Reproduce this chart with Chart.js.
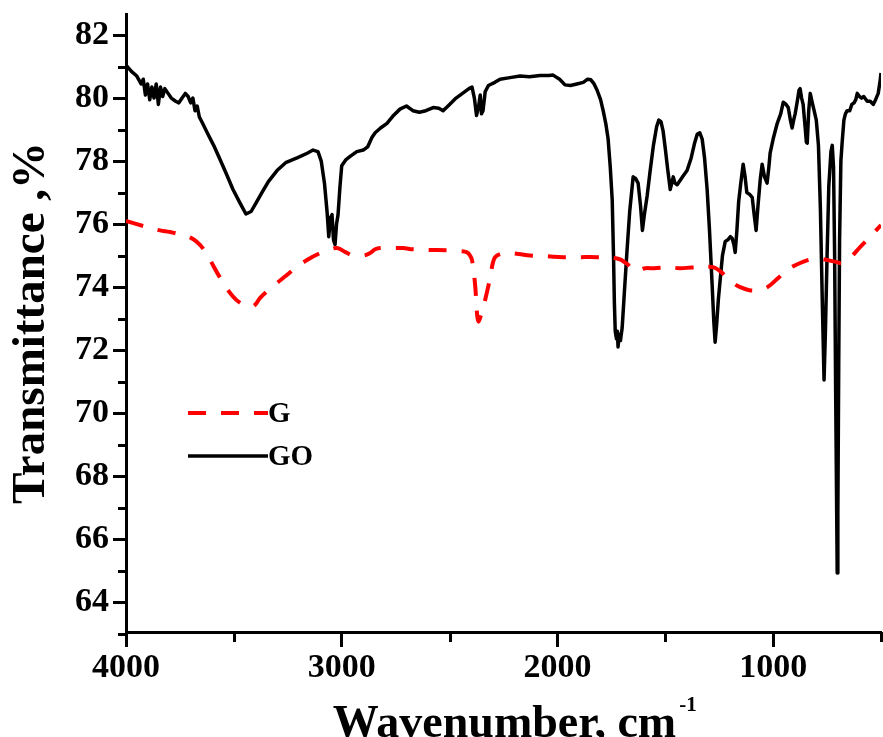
<!DOCTYPE html>
<html>
<head>
<meta charset="utf-8">
<script src="https://cdn.jsdelivr.net/npm/chart.js@4.4.0/dist/chart.umd.min.js"></script>
<style>
  html, body { margin: 0; padding: 0; background: #fff; }
  canvas { display: block; }
</style>
</head>
<body>
<canvas id="ftir" width="883" height="737"></canvas>
<script>
// FTIR spectra of graphene (G) and graphene oxide (GO)
const goWavenumber = [
  4000, 3975, 3950, 3930, 3920, 3910, 3900, 3890, 3880, 3870, 3860, 3850, 3840, 3830, 3820, 3805,
  3790, 3770, 3755, 3740, 3725, 3712, 3700, 3690, 3680, 3670, 3660, 3645, 3620, 3590, 3564, 3535,
  3504, 3470, 3444, 3420, 3395, 3370, 3340, 3300, 3260, 3207, 3160, 3133, 3110, 3095, 3080, 3068,
  3060, 3052, 3045, 3038, 3031, 3024, 3017, 3008, 3000, 2980, 2961, 2930, 2900, 2880, 2860, 2845,
  2820, 2790, 2760, 2730, 2700, 2670, 2640, 2610, 2576, 2550, 2530, 2500, 2470, 2440, 2410, 2396,
  2385, 2375, 2365, 2358, 2352, 2345, 2335, 2320, 2290, 2266, 2220, 2173, 2130, 2080, 2040, 2020,
  1990, 1965, 1940, 1910, 1880, 1860, 1845, 1830, 1816, 1800, 1788, 1776, 1765, 1755, 1746, 1740,
  1736, 1732, 1726, 1722, 1719, 1714, 1708, 1700, 1690, 1677, 1665, 1649, 1638, 1626, 1615, 1606,
  1597, 1584, 1570, 1555, 1540, 1530, 1520, 1510, 1500, 1490, 1477, 1470, 1463, 1455, 1445, 1430,
  1415, 1399, 1380, 1365, 1352, 1340, 1329, 1318, 1306, 1295, 1283, 1275, 1269, 1262, 1254, 1246,
  1235, 1222, 1210, 1198, 1190, 1182, 1176, 1168, 1160, 1150, 1139, 1130, 1122, 1110, 1097, 1088,
  1079, 1070, 1060, 1051, 1040, 1028, 1020, 1014, 1000, 981, 965, 953, 940, 930, 920, 912,
  905, 898, 888, 880, 875, 868, 861, 852, 846, 842, 835, 828, 820, 810, 800, 790,
  781, 772, 764, 758, 750, 742, 732, 726, 720, 715, 710, 705, 703, 700, 696, 692,
  686, 680, 672, 665, 657, 645, 635, 625, 617, 610, 600, 590, 580, 564, 550, 536,
  525, 513, 505, 500
];
const goTransmittance = [
  81.05, 80.85, 80.7, 80.45, 80.6, 80.1, 80.45, 79.95, 80.35, 80.0, 80.45, 79.8, 80.35, 80.05, 80.3, 80.15,
  80.0, 79.9, 79.85, 80.0, 80.15, 80.05, 79.85, 80.0, 79.6, 79.75, 79.4, 79.2, 78.85, 78.45, 78.05, 77.6,
  77.1, 76.65, 76.32, 76.4, 76.7, 77.0, 77.35, 77.7, 77.95, 78.1, 78.25, 78.35, 78.3, 78.0, 77.3, 76.4,
  75.6, 76.2, 76.3, 75.5, 75.35, 76.0, 76.3, 77.2, 77.85, 78.05, 78.15, 78.3, 78.35, 78.45, 78.75, 78.9,
  79.05, 79.2, 79.45, 79.65, 79.75, 79.6, 79.55, 79.6, 79.7, 79.68, 79.6, 79.8, 80.0, 80.15, 80.3, 80.35,
  80.0, 79.45, 79.75, 80.1, 79.5, 79.6, 80.2, 80.4, 80.5, 80.6, 80.65, 80.7, 80.68, 80.72, 80.72, 80.73,
  80.6, 80.42, 80.4, 80.45, 80.5, 80.6, 80.58, 80.45, 80.25, 79.95, 79.6, 79.2, 78.7, 77.8, 76.76, 75.0,
  73.5, 72.6, 72.35, 72.6, 72.1, 72.5, 72.3, 72.7, 73.8, 75.2, 76.4, 77.5, 77.45, 77.3, 76.6, 75.8,
  76.3, 76.9, 77.7, 78.5, 79.1, 79.3, 79.25, 78.95, 78.4, 77.8, 77.1, 77.3, 77.5, 77.3, 77.25, 77.4,
  77.55, 77.7, 78.1, 78.55, 78.85, 78.9, 78.7, 78.1, 77.1, 75.8, 74.1, 72.9, 72.25, 72.8, 73.6, 74.2,
  75.0, 75.45, 75.5, 75.6, 75.55, 75.35, 75.1, 75.8, 76.7, 77.3, 77.9, 77.5, 77.0, 76.95, 76.85, 76.3,
  75.8, 76.6, 77.4, 77.9, 77.5, 77.3, 77.8, 78.25, 78.7, 79.2, 79.5, 79.87, 79.8, 79.7, 79.3, 79.05,
  79.3, 79.5, 79.9, 80.25, 80.3, 80.0, 79.8, 79.1, 78.6, 78.57, 79.6, 80.15, 79.9, 79.6, 79.3, 78.5,
  76.5, 73.5, 71.05, 72.5, 75.0, 77.2, 78.3, 78.5, 77.8, 75.0, 70.5, 66.5, 64.92, 66.8, 71.5, 75.5,
  78.0, 78.6, 79.3, 79.5, 79.6, 79.6, 79.8, 79.85, 79.95, 80.15, 80.05, 80.0, 80.05, 79.9, 79.9, 79.8,
  79.95, 80.15, 80.5, 80.8
];

const gWavenumber = [
  4000, 3900, 3842, 3796, 3740, 3703, 3671, 3640, 3610, 3564, 3504, 3460, 3425, 3400, 3379, 3340,
  3300, 3260, 3226, 3161, 3100, 3060, 3022, 2985, 2947, 2900, 2869, 2845, 2820, 2760, 2716, 2669,
  2600, 2512, 2450, 2419, 2405, 2396, 2382, 2372, 2366, 2355, 2335, 2312, 2300, 2289, 2265, 2233,
  2180, 2127, 2050, 1974, 1900, 1816, 1719, 1680, 1649, 1620, 1593, 1550, 1491, 1431, 1380, 1338,
  1278, 1245, 1213, 1180, 1153, 1110, 1074, 1040, 1014, 975, 935, 880, 814, 780, 750, 710,
  675, 640, 597, 550, 500
];
const gTransmittance = [
  76.1, 75.9, 75.8, 75.75, 75.65, 75.58, 75.43, 75.2, 74.86, 74.3, 73.7, 73.45, 73.37, 73.45, 73.65, 73.9,
  74.13, 74.35, 74.54, 74.86, 75.08, 75.18, 75.24, 75.12, 75.0, 75.0, 75.08, 75.2, 75.24, 75.24, 75.24, 75.2,
  75.18, 75.17, 75.14, 75.1, 75.0, 74.86, 74.1, 73.1, 72.9, 73.1, 73.6, 74.3, 74.75, 74.95, 75.05, 75.08,
  75.05, 75.0, 74.98, 74.95, 74.95, 74.95, 74.9, 74.75, 74.55, 74.55, 74.6, 74.6, 74.63, 74.6, 74.62, 74.63,
  74.63, 74.5, 74.3, 74.1, 74.0, 73.9, 73.9, 73.95, 74.06, 74.3, 74.54, 74.75, 74.9, 74.9, 74.86, 74.8,
  74.76, 74.95, 75.27, 75.6, 75.97
];

const seriesLabels = ['G', 'GO'];
const yMajorTicks = [64, 66, 68, 70, 72, 74, 76, 78, 80, 82];
const yMinorTicks = [63, 65, 67, 69, 71, 73, 75, 77, 79, 81];
const xMajorTicks = [4000, 3000, 2000, 1000];
const xMinorTicks = [3500, 2500, 1500, 500];

const serif = '"Liberation Serif", "Times New Roman", serif';
const toPoints = (xs, ys) => xs.map((x, i) => ({ x: x, y: ys[i] }));

// short outward ticks between the labelled ones
const minorTicks = {
  id: 'minorTicks',
  afterDraw(chart) {
    const { ctx, scales: { x, y }, chartArea } = chart;
    ctx.save();
    ctx.strokeStyle = '#000';
    ctx.lineWidth = 3;
    ctx.beginPath();
    yMinorTicks.forEach(v => {
      const py = Math.round(y.getPixelForValue(v)) + 0.5;
      ctx.moveTo(chartArea.left - 8, py);
      ctx.lineTo(chartArea.left, py);
    });
    xMinorTicks.forEach(v => {
      const px = Math.round(x.getPixelForValue(v)) + 0.5;
      ctx.moveTo(px, chartArea.bottom);
      ctx.lineTo(px, chartArea.bottom + 10);
    });
    ctx.stroke();
    ctx.restore();
  }
};

// x title with superscript unit
const xTitle = {
  id: 'xTitle',
  afterDraw(chart) {
    const { ctx, chartArea } = chart;
    const main = 'Wavenumber, cm';
    const sup = '-1';
    ctx.save();
    ctx.fillStyle = '#000';
    ctx.textBaseline = 'alphabetic';
    ctx.font = 'bold 46px ' + serif;
    const w = ctx.measureText(main).width;
    const cx = (chartArea.left + chartArea.right) / 2 + 1;
    const x0 = cx - w / 2;
    ctx.textAlign = 'left';
    ctx.fillText(main, x0, 737);
    ctx.font = 'bold 21px ' + serif;
    ctx.fillText(sup, x0 + w + 3, 711);
    ctx.restore();
  }
};

// legend inside the plot, line samples taken from the datasets
const insetLegend = {
  id: 'insetLegend',
  afterDraw(chart) {
    const { ctx } = chart;
    const rows = [{ y: 413 }, { y: 456 }];
    ctx.save();
    chart.data.datasets.forEach((ds, i) => {
      const ly = rows[i].y;
      ctx.strokeStyle = ds.borderColor;
      ctx.lineWidth = ds.borderWidth;
      ctx.setLineDash(ds.borderDash || []);
      ctx.lineCap = 'butt';
      ctx.beginPath();
      ctx.moveTo(188, ly);
      ctx.lineTo(268, ly);
      ctx.stroke();
      ctx.setLineDash([]);
      ctx.fillStyle = '#000';
      ctx.font = 'bold 29px ' + serif;
      ctx.textBaseline = 'middle';
      ctx.textAlign = 'left';
      ctx.fillText(ds.label, 268, ly + 2);
    });
    ctx.restore();
  }
};

new Chart(document.getElementById('ftir'), {
  type: 'line',
  data: {
    datasets: [
      {
        label: seriesLabels[0],
        data: toPoints(gWavenumber, gTransmittance),
        borderColor: '#ff0000',
        borderWidth: 4,
        borderDash: [18, 15],
        tension: 0.4,
        pointRadius: 0
      },
      {
        label: seriesLabels[1],
        data: toPoints(goWavenumber, goTransmittance),
        borderColor: '#000000',
        borderWidth: 3.5,
        tension: 0,
        borderJoinStyle: 'round',
        pointRadius: 0
      }
    ]
  },
  options: {
    responsive: false,
    animation: false,
    layout: { padding: { top: 14, right: 2, left: 0, bottom: 0 } },
    plugins: {
      legend: { display: false },
      tooltip: { enabled: false }
    },
    scales: {
      x: {
        type: 'linear',
        reverse: true,
        min: 500,
        max: 4000,
        afterFit: s => { s.height = 105; },
        afterBuildTicks: s => { s.ticks = xMajorTicks.map(v => ({ value: v })); },
        border: { display: true, color: '#000', width: 3 },
        grid: { drawOnChartArea: false, drawTicks: true, tickLength: 15, tickWidth: 3, tickColor: '#000' },
        ticks: {
          autoSkip: false,
          maxRotation: 0,
          padding: 4,
          color: '#000',
          font: { family: serif, size: 34, weight: 'bold', lineHeight: 1 },
          callback: v => String(v)
        },
        title: { display: false }
      },
      y: {
        min: 63.05,
        max: 82.67,
        afterFit: s => { s.width = 126; s.paddingTop = 0; s.paddingBottom = 0; },
        afterBuildTicks: s => { s.ticks = yMajorTicks.map(v => ({ value: v })); },
        border: { display: true, color: '#000', width: 3 },
        grid: { drawOnChartArea: false, drawTicks: true, tickLength: 13, tickWidth: 3, tickColor: '#000' },
        ticks: {
          padding: 4,
          color: '#000',
          font: { family: serif, size: 34, weight: 'bold', lineHeight: 1 },
          callback: v => String(v)
        },
        title: {
          display: true,
          text: 'Transmittance ,%',
          color: '#000',
          padding: { top: 8, bottom: 0 },
          font: { family: serif, size: 47, weight: 'bold', lineHeight: 1 }
        }
      }
    }
  },
  plugins: [minorTicks, xTitle, insetLegend]
});
</script>
</body>
</html>
